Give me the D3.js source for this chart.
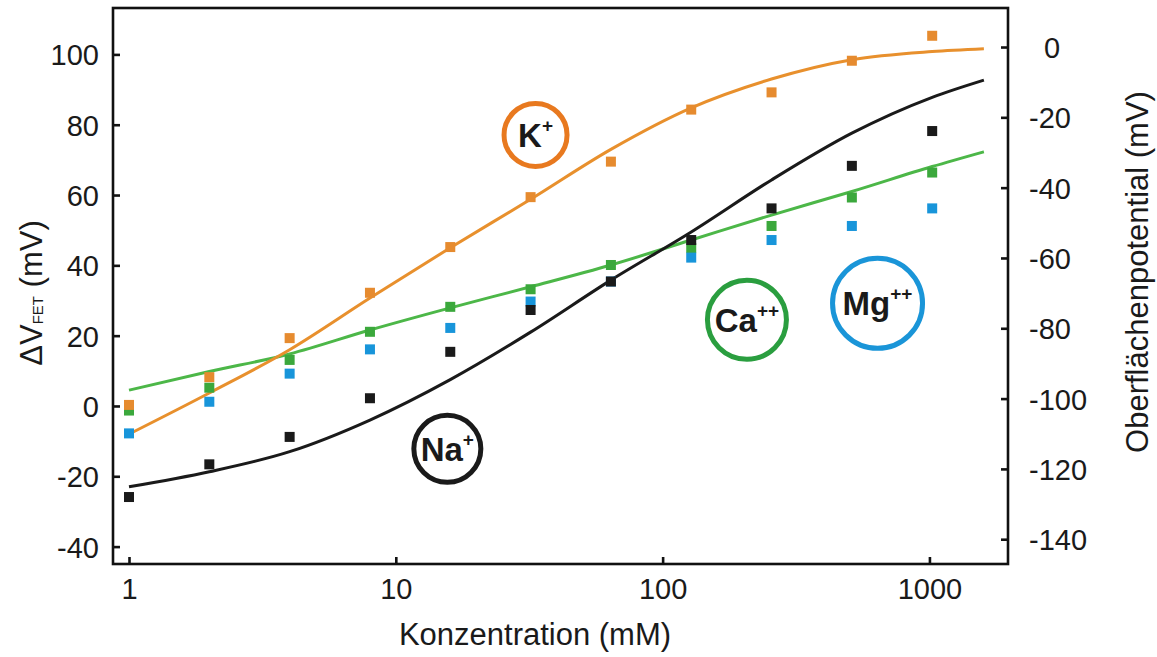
<html>
<meta http-equiv="content-type" content="text/html; charset=UTF8">
<style>
body {margin:0; background:#fff;}
text {font-family:"Liberation Sans", Arial, sans-serif; fill:#1a1a1a;}
</style>
<body>
<svg id="svg1" width="1157" height="657"></svg>

<script src="https://cdn.jsdelivr.net/npm/d3@7"></script>
<script>
// measured points (concentration in mM, dV in mV)
var conc=[1,2,4,8,16,32,64,128,256,512,1024];
var kVals=[0.3,8.2,19.3,32.2,45.2,59.4,69.5,84.3,89.2,98.2,105.3];
var caVals=[-1.3,5.2,13.1,21.1,28.2,33.2,40.1,44.9,51.2,59.3,66.4];
var mgVals=[-7.8,1.2,9.2,16.1,22.2,29.7,35.4,42.2,47.2,51.2,56.2];
var naVals=[-25.9,-16.6,-8.8,2.2,15.4,27.3,35.4,47.2,56.2,68.3,78.2];

// fitted curves
var fitConc=[1,2,4,8,16,32,64,128,256,512,1024,1600];
var kFit=[-8,3.7,16,30.7,45,58.8,73,84.8,93,98.5,100.8,101.6];
var caFit=[4.5,9.8,14.8,21.6,27.9,33.9,40.1,47.2,54.3,61,68.1,72.3];
var naFit=[-23,-18.7,-13,-4,7.5,21,35.8,49.5,64.3,77.6,87.8,92.7];

var xTicks=[1,10,100,1000];
var yTicks=[-40,-20,0,20,40,60,80,100];
var y2Ticks=[-140,-120,-100,-80,-60,-40,-20,0];

var ORANGE="#e68b2f", GREEN="#3ba83c", BLUE="#1895da", BLACK="#1a1a1a";

var svg=d3.select("#svg1");
var pL=113,pR=1008,pT=8,pB=564;

var x=d3.scaleLog().domain([0.871,1970]).range([pL,pR]);
var y=d3.scaleLinear().domain([-44.95,113.2]).range([pB,pT]);
var y2=d3.scaleLinear().domain([-147.05,11.1]).range([pB,pT]);

// plain hyphen minus like the original
var fmt=function(d){return String(d)};

// fit lines (green under black under orange)
var fits=[
	{vals:caFit,color:"#4cb748"},
	{vals:naFit,color:BLACK},
	{vals:kFit,color:"#e8902d"}
];
var line=d3.line()
	.x(function(d){return x(d[0])})
	.y(function(d){return y(d[1])})
	.curve(d3.curveMonotoneX);
fits.forEach(function(f){
	svg.append("path")
		.attr("d",line(fitConc.map(function(c,i){return [c,f.vals[i]]})))
		.attr("fill","none")
		.attr("stroke",f.color)
		.attr("stroke-width",3);
});

// squares
var sq=10;
var series=[
	{vals:caVals,color:GREEN},
	{vals:mgVals,color:BLUE},
	{vals:naVals,color:BLACK},
	{vals:kVals,color:ORANGE}
];
series.forEach(function(s){
	svg.append("g").selectAll("rect")
		.data(conc.map(function(c,i){return [c,s.vals[i]]}))
		.enter().append("rect")
		.attr("x",function(d){return x(d[0])-sq/2})
		.attr("y",function(d){return y(d[1])-sq/2})
		.attr("width",sq).attr("height",sq)
		.attr("fill",s.color);
});

// frame
svg.append("rect")
	.attr("x",pL).attr("y",pT)
	.attr("width",pR-pL).attr("height",pB-pT)
	.attr("fill","none").attr("stroke","#111").attr("stroke-width",2.6);

var styleAxis=function(g){
	g.select(".domain").remove();
	g.selectAll(".tick line").attr("stroke","#111").attr("stroke-width",2.6);
	g.selectAll(".tick text").attr("font-size",29).attr("fill","#1a1a1a");
	g.attr("font-family",null).attr("font-size",null);
};

svg.append("g").attr("transform","translate(0,"+pB+")")
	.call(d3.axisBottom(x).tickValues(xTicks).tickFormat(fmt).tickSizeInner(-7).tickSizeOuter(0).tickPadding(14))
	.call(styleAxis);

svg.append("g").attr("transform","translate("+pL+",0)")
	.call(d3.axisLeft(y).tickValues(yTicks).tickFormat(fmt).tickSizeInner(-7).tickSizeOuter(0).tickPadding(14))
	.call(styleAxis)
	.selectAll(".tick text").attr("dy","0.36em");

var rAx=svg.append("g").attr("transform","translate("+pR+",0)")
	.call(d3.axisRight(y2).tickValues(y2Ticks).tickFormat(fmt).tickSizeInner(-7).tickSizeOuter(0).tickPadding(21))
	.call(styleAxis);
rAx.selectAll(".tick text").attr("dy","0.36em")
	.filter(function(d){return d===0}).attr("dx",15);

// axis titles
svg.append("text")
	.attr("x",535).attr("y",645)
	.attr("text-anchor","middle").attr("font-size",31)
	.text("Konzentration (mM)");

var yt=svg.append("text")
	.attr("transform","translate(42,293) rotate(-90)")
	.attr("text-anchor","middle").attr("font-size",31);
yt.append("tspan").text("\u0394V");
yt.append("tspan").attr("font-size",15).attr("dy",1).text("FET");
yt.append("tspan").attr("dy",-1).text(" (mV)");

svg.append("text")
	.attr("transform","translate(1148,272) rotate(-90)")
	.attr("text-anchor","middle").attr("font-size",31)
	.text("Oberfl\u00e4chenpotential (mV)");

// ion labels, placed in data coordinates
var ions=[
	{name:"K",sup:"+",c:33.4,v:77.1,r:31.5,color:"#e8791f"},
	{name:"Na",sup:"+",c:15.6,v:-12.2,r:33.5,color:BLACK},
	{name:"Ca",sup:"++",c:207,v:24.5,r:39.5,color:"#2a9e3f"},
	{name:"Mg",sup:"++",c:639,v:29.2,r:45,color:"#1a95d8"}
];
ions.forEach(function(d){
	var g=svg.append("g").attr("transform","translate("+x(d.c)+","+y(d.v)+")");
	g.append("circle").attr("r",d.r).attr("fill","none")
		.attr("stroke",d.color).attr("stroke-width",5);
	var t=g.append("text").attr("text-anchor","middle").attr("y",12)
		.attr("font-size",33).attr("font-weight","bold");
	t.append("tspan").text(d.name);
	t.append("tspan").attr("font-size",19).attr("dy",-15).text(d.sup);
});
</script>
</html>
